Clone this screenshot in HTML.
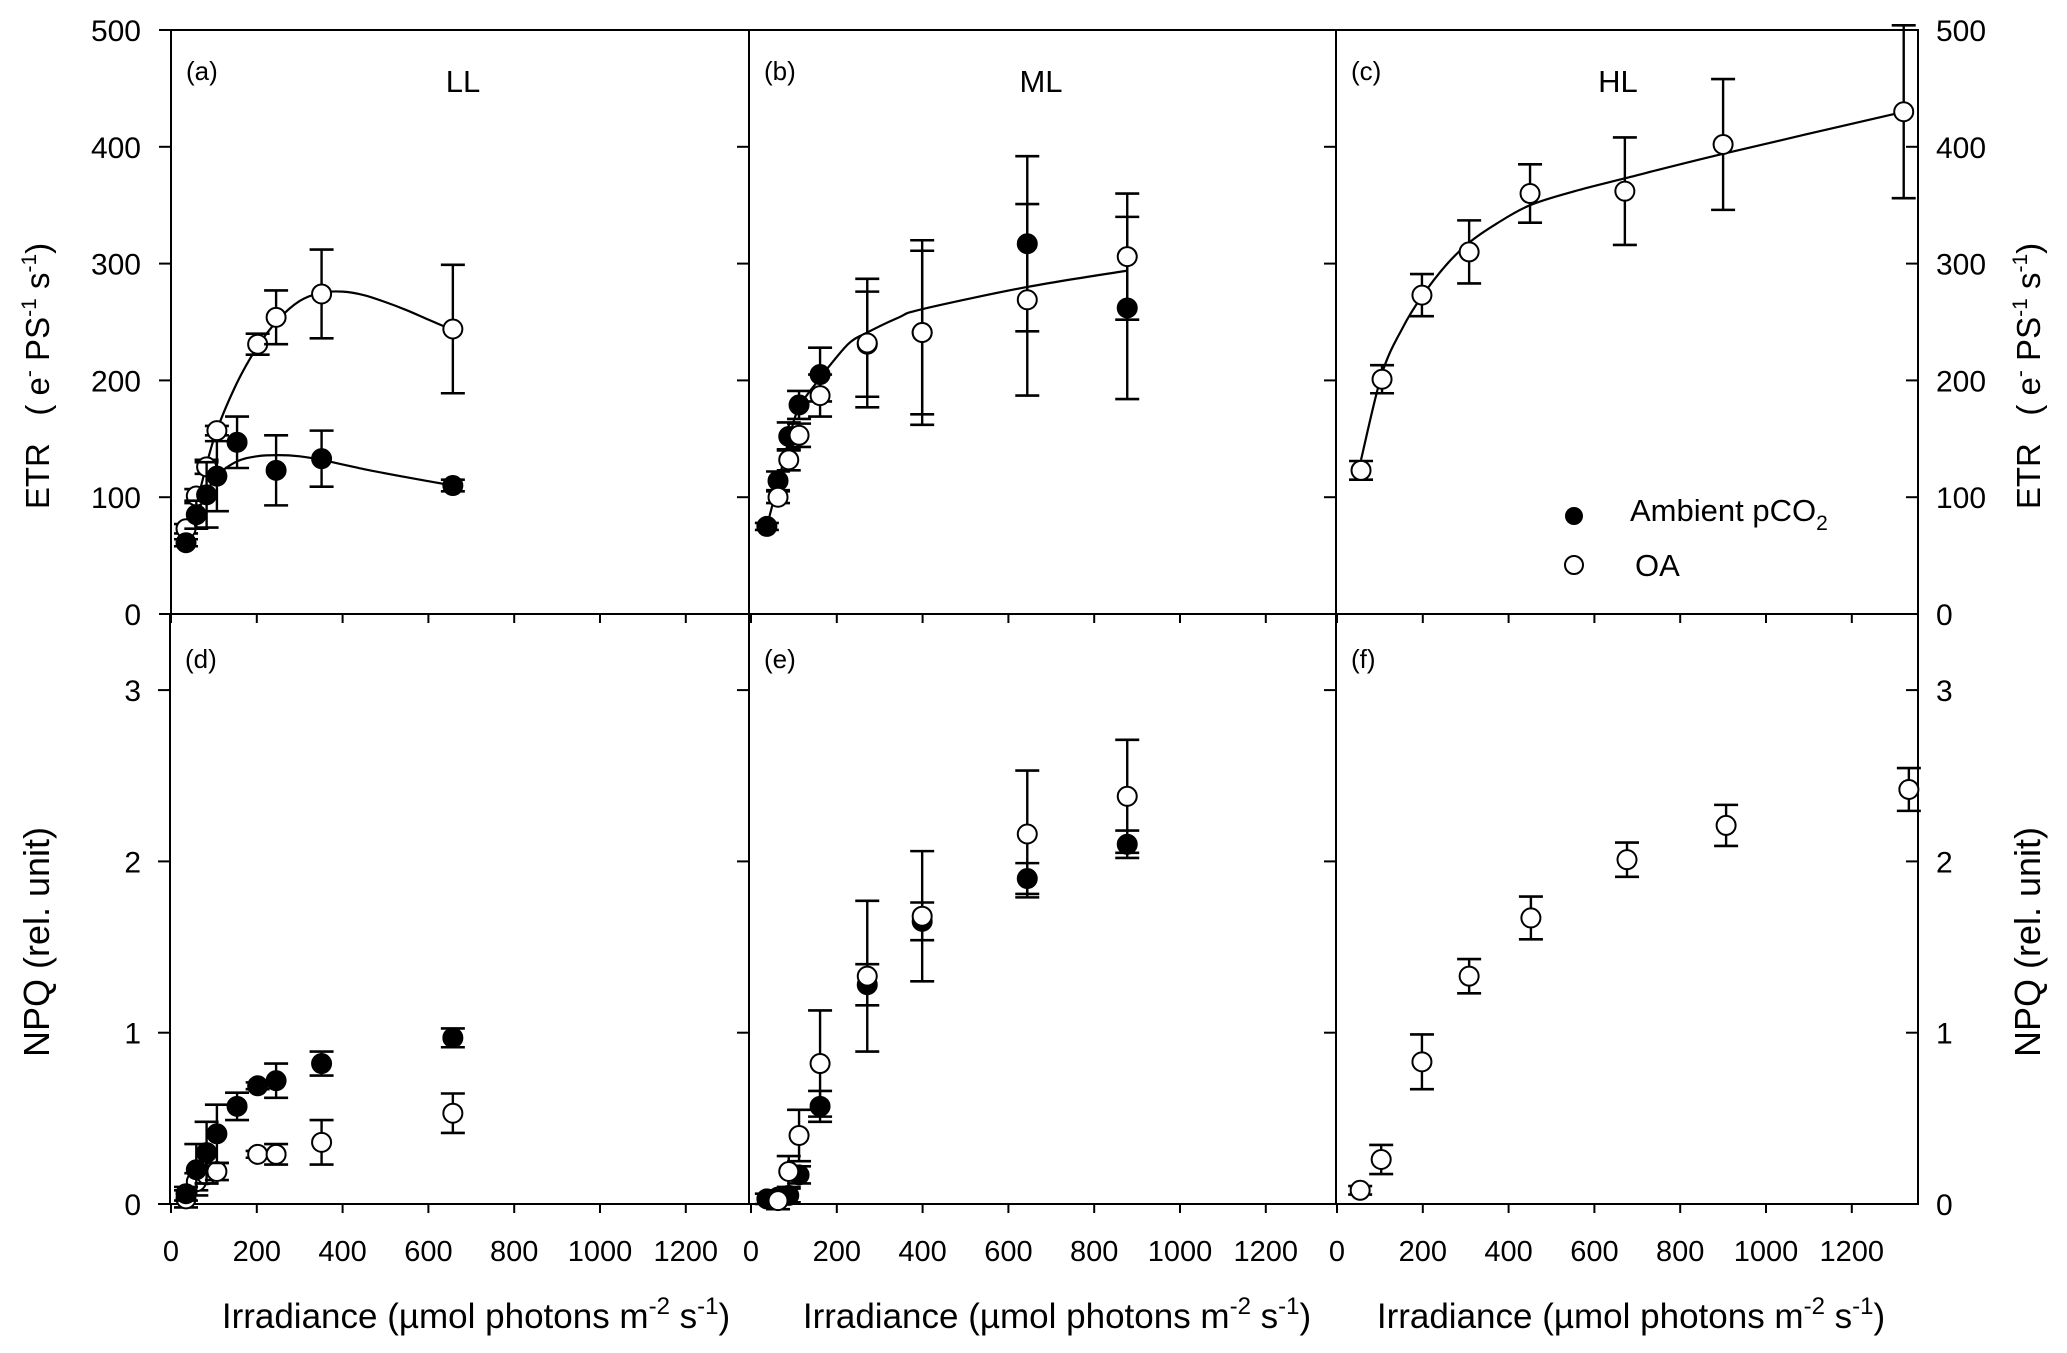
<!DOCTYPE html>
<html><head><meta charset="utf-8"><style>
html,body{margin:0;padding:0;background:#fff}
svg{display:block}
text{font-family:"Liberation Sans",Arial,sans-serif;fill:#000}
</style></head><body>
<svg id="fig" width="2067" height="1353" viewBox="0 0 2067 1353" xmlns="http://www.w3.org/2000/svg"></svg>
<script>
// ---------- data ----------
const llX = [35,59,83,107,154,202,245,351,657];
const llEtrAmb = [61,85,102,118,147,null,123,133,110];
const llEtrAmbErr = [3,12,28,30,22,null,30,24,5];
const llEtrOA = [73,101,126,157,null,231,254,274,244];
const llEtrOAErr = [4,6,6,4,null,9,23,38,55];
const llCurveOAX = [35,60,100,150,200,250,300,350,400,450,500,550,600,657];
const llCurveOAY = [62,95,150,195,228,252,268,275,276,273,267,260,252,243];
const llCurveAmbX = [35,60,100,150,200,250,300,350,450,550,657];
const llCurveAmbY = [58,85,115,130,135,136,135,132,124,117,110];

const mlX = [37,63,88,112,161,271,399,644,877];
const mlEtrAmb = [75,114,152,179,205,231,241,317,262];
const mlEtrAmbErr = [3,8,12,12,23,45,70,75,78];
const mlEtrOA = [null,100,132,153,187,232,241,269,306];
const mlEtrOAErr = [null,5,9,10,18,55,79,82,54];
const mlCurveX = [37,63,88,112,161,182,229,271,345,399,644,877];
const mlCurveY = [75,112,149,177,202,212,232,241,254,261,280,294];

const hlX = [56,105,198,308,450,671,900,1321];
const hlEtrOA = [123,201,273,310,360,362,402,430];
const hlEtrOAErr = [8,12,18,27,25,46,56,74];
const hlCurveX = [56,105,153,198,255,308,371,450,554,671,900,1321];
const hlCurveY = [132,206,245,272,299,318,334,350,362,373,394,430];

const llNpqAmb = [0.06,0.20,0.30,0.41,0.57,0.69,0.72,0.82,0.97];
const llNpqAmbErr = [0.04,0.15,0.18,0.17,0.08,0.02,0.10,0.07,0.055];
const llNpqOA = [0.03,0.13,0.17,0.19,null,0.29,0.29,0.36,0.53];
const llNpqOAErr = [0.05,0.05,0.05,0.05,null,0.02,0.06,0.13,0.115];
const mlNpqAmb = [0.03,0.04,0.05,0.17,0.57,1.28,1.65,1.90,2.10];
const mlNpqAmbErr = [0.03,0.04,0.04,0.05,0.09,0.12,0.11,0.09,0.08];
const mlNpqOA = [null,0.02,0.19,0.40,0.82,1.33,1.68,2.16,2.38];
const mlNpqOAErr = [null,0.05,0.09,0.15,0.31,0.44,0.38,0.37,0.33];
const hlNpqX = [54,103,198,308,452,676,907,1333];
const hlNpqOA = [0.08,0.26,0.83,1.33,1.67,2.01,2.21,2.42];
const hlNpqOAErr = [0.025,0.085,0.16,0.10,0.125,0.10,0.12,0.125];

const xTicks = [0,200,400,600,800,1000,1200];
const etrTicks = [0,100,200,300,400,500];
const npqTicks = [0,1,2,3];

// ---------- drawing ----------
const NS = 'http://www.w3.org/2000/svg';
const svg = document.getElementById('fig');
function mk(tag, attrs, parent){
  const e = document.createElementNS(NS, tag);
  for (const k in attrs) e.setAttribute(k, attrs[k]);
  (parent||svg).appendChild(e);
  return e;
}
const XS = 0.429;
const upper = {top:30, bottom:614};
const lower = {top:614, bottom:1204};
function yU(v){ return upper.bottom - v*1.168; }
function yL(v){ return lower.bottom - v*171.3; }
function xAt(ox, v){ return ox + v*XS; }

const panels = [
  {id:'a', x0:171, x1:749, row:'u', label:'(a)', title:'LL', titleX:463},
  {id:'b', x0:749, x1:1336, row:'u', label:'(b)', title:'ML', titleX:1041},
  {id:'c', x0:1336, x1:1918, row:'u', label:'(c)', title:'HL', titleX:1618},
  {id:'d', x0:170, x1:749, row:'l', label:'(d)'},
  {id:'e', x0:749, x1:1336, row:'l', label:'(e)'},
  {id:'f', x0:1336, x1:1918, row:'l', label:'(f)'}
];
const origins = {a:171,b:751,c:1337,d:171,e:751,f:1337};

panels.forEach(p=>{
  const g = mk('g', {});
  
  
  const top = p.row==='u'?upper.top:lower.top, bot = p.row==='u'?upper.bottom:lower.bottom;
  const r = mk('rect', {x:p.x0, y:top, width:p.x1-p.x0, height:bot-top, fill:'none', stroke:'#000', 'stroke-width':2}, g);
  
  
  const lab = mk('text', {x:p.x0+15, y:top+(p.row==='u'?50:54), 'font-size':26}, g);
  lab.textContent = p.label;
  
  
  if (p.title){
    const t = mk('text', {x:p.titleX, y:92, 'font-size':31, 'text-anchor':'middle'}, g);
    t.textContent = p.title;
    
    
  }
  xTicks.forEach(v=>{
    const x = xAt(origins[p.id], v);
    mk('line', {x1:x, x2:x, y1:bot, y2:bot+9, stroke:'#000', 'stroke-width':2}, g);
    if (p.row==='l'){
      const tl = mk('text', {x:x, y:1261, 'font-size':29, 'text-anchor':'middle'}, g);
      tl.textContent = v;
      
      
    }
  });
  const ticks = p.row==='u'?etrTicks:npqTicks;
  ticks.forEach(v=>{
    const y = p.row==='u'?yU(v):yL(v);
    mk('line', {x1:p.x0-12, x2:p.x0, y1:y, y2:y, stroke:'#000', 'stroke-width':2}, g);
  });
});

etrTicks.forEach(v=>{
  const t = mk('text', {x:141, y:yU(v)+11, 'font-size':30, 'text-anchor':'end'});
  t.textContent = v;
  
  
  const t2 = mk('text', {x:1936, y:yU(v)+11, 'font-size':30, 'text-anchor':'start'});
  t2.textContent = v;
  
  
  mk('line', {x1:1906, x2:1918, y1:yU(v), y2:yU(v), stroke:'#000', 'stroke-width':2});
});
npqTicks.forEach(v=>{
  const t = mk('text', {x:141, y:yL(v)+11, 'font-size':30, 'text-anchor':'end'});
  t.textContent = v;
  
  
  const t2 = mk('text', {x:1936, y:yL(v)+11, 'font-size':30, 'text-anchor':'start'});
  t2.textContent = v;
  
  
  mk('line', {x1:1906, x2:1918, y1:yL(v), y2:yL(v), stroke:'#000', 'stroke-width':2});
});

function vtitle(x, y, html, name, fs){
  const t = mk('text', {x:0, y:0, 'font-size':fs, 'text-anchor':'middle', transform:`translate(${x},${y}) rotate(-90)`});
  t.innerHTML = html;
  
  
}
const etrHtml = 'ETR&#160;&#160;&#160;( e<tspan dy="-13" font-size="21">-</tspan><tspan dy="13"> PS</tspan><tspan dy="-13" font-size="21">-1</tspan><tspan dy="13"> s</tspan><tspan dy="-13" font-size="21">-1</tspan><tspan dy="13">)</tspan>';
vtitle(49, 376, etrHtml, 'y-axis-title-etr-left', 33);
vtitle(2040, 376, etrHtml, 'y-axis-title-etr-right', 33);
vtitle(49, 942, 'NPQ (rel. unit)', 'y-axis-title-npq-left', 36);
vtitle(2040, 942, 'NPQ (rel. unit)', 'y-axis-title-npq-right', 36);
const xt = 'Irradiance (µmol photons m<tspan dy="-14" font-size="24">-2</tspan><tspan dy="14"> s</tspan><tspan dy="-14" font-size="24">-1</tspan><tspan dy="14">)</tspan>';
[[476,'x-axis-title-d'],[1057,'x-axis-title-e'],[1631,'x-axis-title-f']].forEach(a=>{
  const t = mk('text', {x:a[0], y:1328, 'font-size':35, 'text-anchor':'middle'});
  t.innerHTML = xt;
  
  
});

function curve(ox, xs, ys, yf, name){
  const pts = xs.map((v,i)=>[xAt(ox,v), yf(ys[i])]);
  let d = `M${pts[0][0]},${pts[0][1]}`;
  for (let i=0;i<pts.length-1;i++){
    const p0 = pts[Math.max(0,i-1)], p1 = pts[i], p2 = pts[i+1], p3 = pts[Math.min(pts.length-1,i+2)];
    const c1 = [p1[0]+(p2[0]-p0[0])/6, p1[1]+(p2[1]-p0[1])/6];
    const c2 = [p2[0]-(p3[0]-p1[0])/6, p2[1]-(p3[1]-p1[1])/6];
    d += ` C${c1[0]},${c1[1]} ${c2[0]},${c2[1]} ${p2[0]},${p2[1]}`;
  }
  const e = mk('path', {d:d, fill:'none', stroke:'#000', 'stroke-width':2.2});
  
  
}
curve(171, llCurveOAX, llCurveOAY, yU, 'fit-curve-ll-oa');
curve(171, llCurveAmbX, llCurveAmbY, yU, 'fit-curve-ll-ambient');
curve(751, mlCurveX, mlCurveY, yU, 'fit-curve-ml');
curve(1337, hlCurveX, hlCurveY, yU, 'fit-curve-hl');

function series(ox, xs, vals, errs, yf, filled, name){
  xs.forEach((xv,i)=>{
    const v = vals[i];
    if (v===null || v===undefined) return;
    const x = xAt(ox, xv), y = yf(v), yt = yf(v+errs[i]), yb = yf(v-errs[i]);
    const g = mk('g', {});
    
    
    mk('line', {x1:x, x2:x, y1:yt, y2:yb, stroke:'#000', 'stroke-width':2.4}, g);
    mk('line', {x1:x-12, x2:x+12, y1:yt, y2:yt, stroke:'#000', 'stroke-width':2.6}, g);
    mk('line', {x1:x-12, x2:x+12, y1:yb, y2:yb, stroke:'#000', 'stroke-width':2.6}, g);
    mk('circle', {cx:x, cy:y, r:9.5, fill:filled?'#000':'#fff', stroke:'#000', 'stroke-width':2}, g);
  });
}
series(171, llX, llEtrOA, llEtrOAErr, yU, false, 'll-etr-oa');
series(171, llX, llEtrAmb, llEtrAmbErr, yU, true, 'll-etr-ambient');
series(751, mlX, mlEtrAmb, mlEtrAmbErr, yU, true, 'ml-etr-ambient');
series(751, mlX, mlEtrOA, mlEtrOAErr, yU, false, 'ml-etr-oa');
series(1337, hlX, hlEtrOA, hlEtrOAErr, yU, false, 'hl-etr-oa');
series(171, llX, llNpqOA, llNpqOAErr, yL, false, 'll-npq-oa');
series(171, llX, llNpqAmb, llNpqAmbErr, yL, true, 'll-npq-ambient');
series(751, mlX, mlNpqAmb, mlNpqAmbErr, yL, true, 'ml-npq-ambient');
series(751, mlX, mlNpqOA, mlNpqOAErr, yL, false, 'ml-npq-oa');
series(1337, hlNpqX, hlNpqOA, hlNpqOAErr, yL, false, 'hl-npq-oa');
</script>
<svg style="position:absolute;left:0;top:0" width="2067" height="1353">
  <g>
    <circle cx="1574" cy="516" r="9" fill="#000"/>
    <text x="1630" y="521" font-size="31" font-family="Liberation Sans, sans-serif">Ambient pCO<tspan dy="9" font-size="21">2</tspan></text>
  </g>
  <g>
    <circle cx="1574" cy="565" r="9" fill="#fff" stroke="#000" stroke-width="2"/>
    <text x="1635" y="576" font-size="31" font-family="Liberation Sans, sans-serif">OA</text>
  </g>
</svg>
</body></html>
